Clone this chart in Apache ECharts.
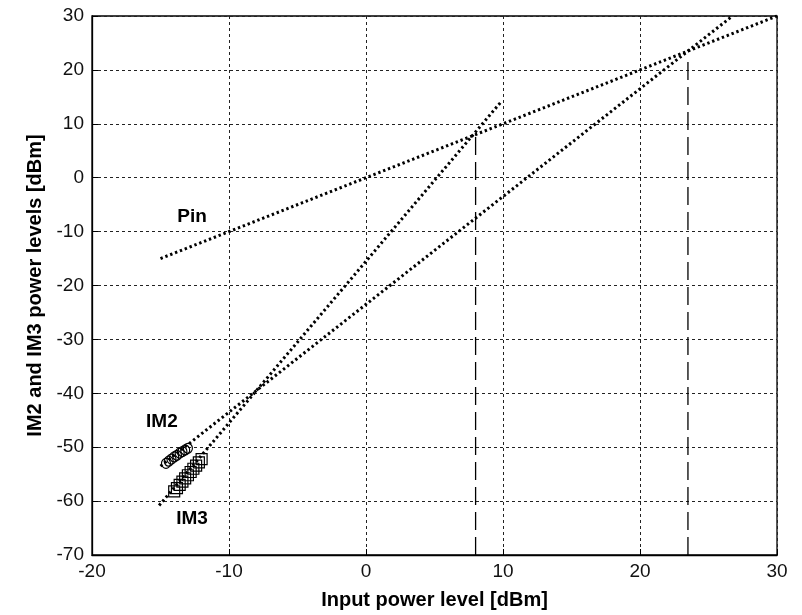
<!DOCTYPE html>
<html><head><meta charset="utf-8">
<script src="https://cdn.jsdelivr.net/npm/echarts@6/dist/echarts.min.js"></script>
<style>html,body{margin:0;padding:0;background:#fff}#c{width:802px;height:615px}</style>
</head><body><div id="c"></div>
<script>
// Data
const pinLine = [[-15, -15], [30, 30]];
const im2Fit = [[-15, -53.5], [26.75, 30]];
const im3Fit = [[-15.1, -60.8], [9.9, 14.2]];
const im2X = [-14.6, -14.4, -14.2, -14.0, -13.8, -13.6, -13.4, -13.2, -13.0];
const im2Y = [-53.0, -52.6, -52.2, -51.8, -51.5, -51.1, -50.8, -50.5, -50.2];
const im3X = [-14.0, -13.8, -13.6, -13.4, -13.2, -13.0, -12.8, -12.6, -12.4, -12.2, -12.0];
const im3Y = [-58.2, -57.6, -57.0, -56.4, -55.8, -55.2, -54.6, -54.0, -53.4, -52.8, -52.2];
const ip2Line = [[8, -70], [8, 7.6]];
const ip3Line = [[23.5, -70], [23.5, 21.7]];
const annoText = ['Pin', 'IM2', 'IM3'];
const annoX = [-12.7, -14.9, -12.7];
const annoY = [-7.3, -45.2, -63.2];

const FONT = 'Arial, "Liberation Sans", sans-serif';
const zip = (xs, ys) => xs.map((x, i) => [x, ys[i]]);
const dotted = { color: '#000', width: 3, type: [2.4, 2.8] };
const longDash = { color: '#000', width: 1.3, type: [18, 7] };

const chart = echarts.init(document.getElementById('c'), null, { renderer: 'canvas' });
chart.setOption({
  backgroundColor: '#fff',
  animation: false,
  grid: { left: 92, right: 25, top: 16, bottom: 58, show: true, borderColor: '#000', borderWidth: 1.3, backgroundColor: 'transparent' },
  xAxis: {
    type: 'value', min: -20, max: 30, interval: 10,
    name: 'Input power level [dBm]', nameLocation: 'middle', nameGap: 35,
    nameTextStyle: { fontFamily: FONT, fontSize: 20, fontWeight: 'bold', color: '#000' },
    axisLine: { show: true, onZero: false, lineStyle: { color: '#000', width: 1.3 } },
    axisTick: { show: true, inside: true, length: 6, lineStyle: { color: '#000' } },
    axisLabel: { fontFamily: FONT, fontSize: 19, color: '#111', margin: 7 },
    splitLine: { show: true, lineStyle: { color: '#222', width: 1, type: [3, 3] } }
  },
  yAxis: {
    type: 'value', min: -70, max: 30, interval: 10,
    name: 'IM2 and IM3 power levels [dBm]', nameLocation: 'middle', nameGap: 45, nameRotate: 90,
    nameTextStyle: { fontFamily: FONT, fontSize: 20, fontWeight: 'bold', color: '#000' },
    axisLine: { show: true, onZero: false, lineStyle: { color: '#000', width: 1.3 } },
    axisTick: { show: true, inside: true, length: 6, lineStyle: { color: '#000' } },
    axisLabel: { fontFamily: FONT, fontSize: 19, color: '#111', margin: 8 },
    splitLine: { show: true, lineStyle: { color: '#222', width: 1, type: [3, 3] } }
  },
  series: [
    { type: 'line', data: pinLine, symbol: 'none', lineStyle: dotted, silent: true },
    { type: 'line', data: im2Fit, symbol: 'none', lineStyle: dotted, silent: true },
    { type: 'line', data: im3Fit, symbol: 'none', lineStyle: dotted, silent: true },
    { type: 'line', data: ip2Line, symbol: 'none', lineStyle: longDash, silent: true },
    { type: 'line', data: ip3Line, symbol: 'none', lineStyle: longDash, silent: true },
    { type: 'scatter', data: zip(im2X, im2Y), symbol: 'circle', symbolSize: [9, 10],
      itemStyle: { color: 'transparent', borderColor: '#000', borderWidth: 1.2, opacity: 1 }, silent: true },
    { type: 'scatter', data: zip(im3X, im3Y), symbol: 'rect', symbolSize: 11,
      itemStyle: { color: 'transparent', borderColor: '#000', borderWidth: 1.2, opacity: 1 }, silent: true },
    { type: 'scatter', symbol: 'circle', symbolSize: 1, silent: true,
      itemStyle: { color: 'transparent', opacity: 1 },
      data: annoText.map((t, i) => ({ value: [annoX[i], annoY[i]], name: t })),
      label: { show: true, position: 'inside', formatter: p => p.name,
        fontFamily: FONT, fontSize: 19, fontWeight: 'bold', color: '#000' } }
  ]
});
</script></body></html>
